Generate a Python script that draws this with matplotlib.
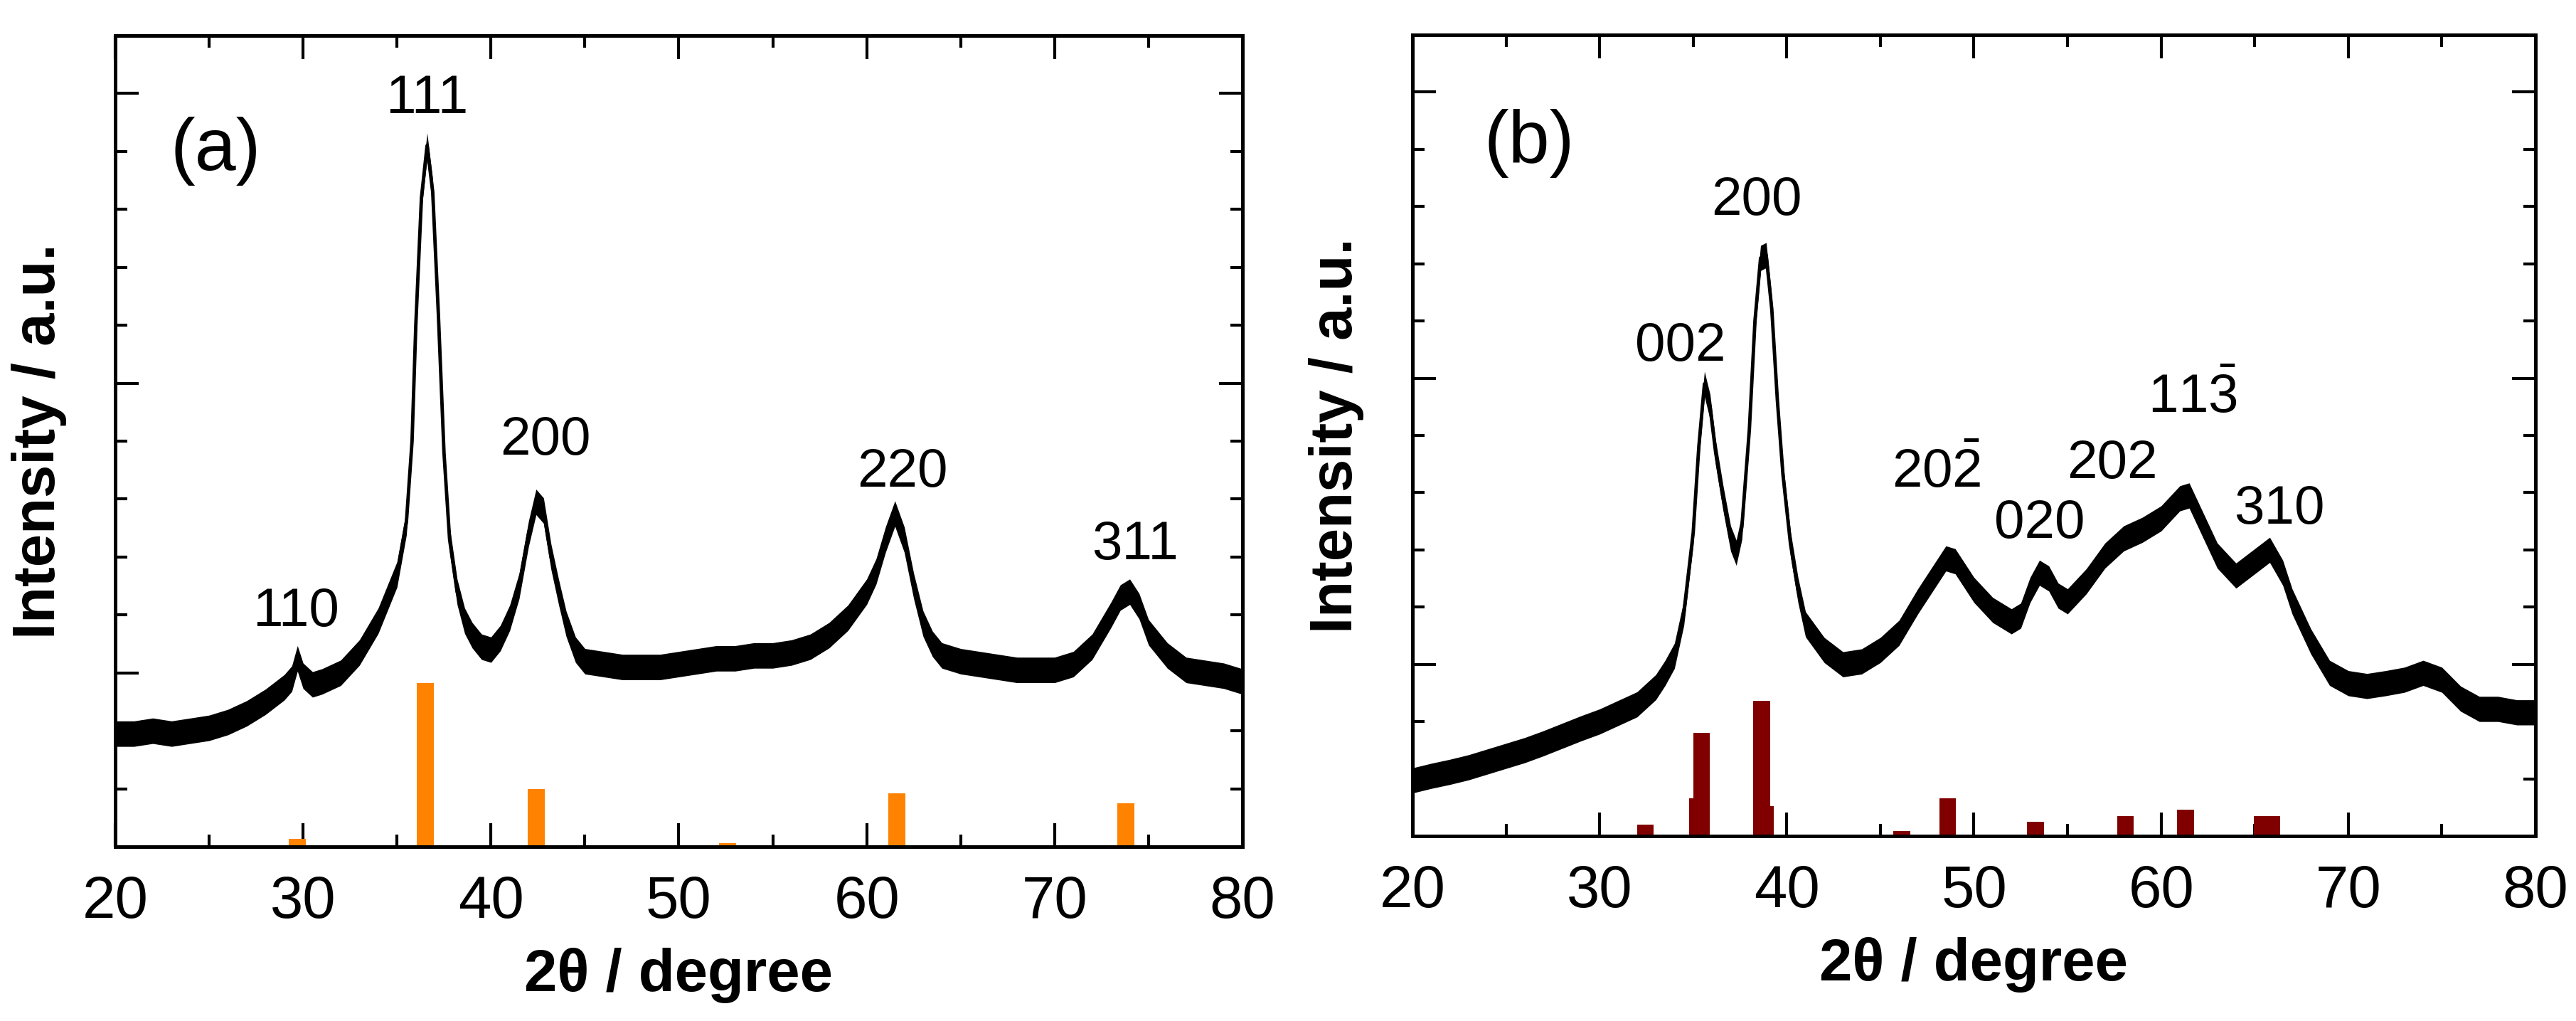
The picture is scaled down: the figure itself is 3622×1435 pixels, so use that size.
import numpy as np
import matplotlib
matplotlib.use('Agg')
import matplotlib.pyplot as plt
from matplotlib.ticker import MultipleLocator

plt.rcParams.update({
    'font.family': ['Liberation Sans', 'DejaVu Sans'],
    'mathtext.fontset': 'custom',
    'mathtext.rm': 'Liberation Sans',
    'mathtext.it': 'Liberation Sans',
})

# --- data (intensity in arbitrary units) --- #

# (a) pattern
two_theta_a = [20, 21, 22, 23, 24, 25, 26, 27, 28, 29, 29.4, 29.7, 30.0, 30.5,
               31, 32, 33, 34, 35, 35.5, 35.8, 36.0, 36.3, 36.6, 36.9, 37.2,
               37.5, 37.8, 38.2, 38.6, 39, 39.5, 40, 40.5, 41, 41.5, 42, 42.4,
               42.8, 43.2, 43.6, 44, 44.5, 45, 46, 47, 48, 49, 50, 51, 52, 53,
               54, 55, 56, 57, 58, 59, 60, 60.5, 61, 61.5, 62, 62.5, 63, 63.5,
               64, 65, 66, 67, 68, 69, 70, 71, 72, 73, 73.5, 74, 74.5, 75, 76,
               77, 78, 79, 80]
intensity_a = [1.95, 1.95, 2.0, 1.95, 2.0, 2.05, 2.15, 2.3, 2.5, 2.75, 2.9, 3.25,
               2.95, 2.8, 2.85, 3.0, 3.35, 3.9, 4.7, 5.6, 7.0, 9.0, 11.2, 12.1,
               11.3, 9.2, 6.8, 5.3, 4.4, 3.9, 3.65, 3.45, 3.4, 3.6, 3.95, 4.5,
               5.4, 5.95, 5.8, 5.0, 4.4, 3.85, 3.4, 3.2, 3.15, 3.1, 3.1, 3.1,
               3.15, 3.2, 3.25, 3.25, 3.3, 3.3, 3.35, 3.45, 3.65, 3.95, 4.4,
               4.75, 5.3, 5.75, 5.3, 4.5, 3.85, 3.5, 3.3, 3.2, 3.15, 3.1, 3.05,
               3.05, 3.05, 3.15, 3.45, 4.0, 4.3, 4.4, 4.15, 3.7, 3.3, 3.05, 3.0,
               2.95, 2.85]
noise_a = 0.22

ref_pos_a = [29.7, 36.5, 42.4, 52.6, 61.6, 73.8]
ref_height_a = [0.13, 2.82, 1.0, 0.06, 0.92, 0.75]

peaks_a = ['110', '111', '200', '220', '311']
peak_x_a = [29.6, 36.6, 42.9, 61.9, 74.3]
peak_y_a = [4.05, 12.9, 7.0, 6.45, 5.2]

# (b) pattern
two_theta_b = [20, 21, 22, 23, 24, 25, 26, 27, 28, 29, 30, 31, 32, 33, 33.5, 34,
               34.5, 35, 35.3, 35.6, 35.9, 36.2, 36.6, 37, 37.3, 37.6, 38, 38.3,
               38.6, 38.9, 39.2, 39.5, 39.8, 40.2, 40.6, 41, 42, 43, 44, 45, 46,
               47, 48, 48.5, 49, 50, 51, 52, 52.5, 53, 53.5, 54, 54.5, 55, 56,
               57, 58, 59, 60, 61, 61.5, 62, 63, 64, 65, 65.8, 66.5, 67, 68, 69,
               70, 71, 72, 73, 74, 75, 76, 77, 78, 79, 80]
intensity_b = [0.97, 1.05, 1.12, 1.2, 1.3, 1.4, 1.5, 1.62, 1.75, 1.88, 2.0, 2.15,
               2.3, 2.6, 2.85, 3.15, 3.9, 5.3, 6.8, 7.9, 7.5, 6.7, 5.9, 5.2,
               4.95, 5.4, 7.1, 9.0, 10.1, 10.15, 9.2, 7.6, 6.3, 5.1, 4.3, 3.7,
               3.25, 3.0, 3.05, 3.25, 3.55, 4.1, 4.6, 4.85, 4.8, 4.3, 3.95, 3.75,
               3.85, 4.3, 4.6, 4.5, 4.2, 4.1, 4.45, 4.9, 5.2, 5.35, 5.55, 5.9,
               5.95, 5.6, 4.9, 4.55, 4.8, 5.0, 4.6, 4.1, 3.4, 2.85, 2.67, 2.62,
               2.67, 2.73, 2.85, 2.73, 2.4, 2.22, 2.22, 2.16, 2.16]
noise_b = 0.22

ref_pos_b = [32.45, 35.25, 35.45, 38.65, 38.85, 46.15, 48.6, 53.3, 58.1, 61.3,
             65.4, 65.9]
ref_height_b = [0.2, 0.66, 1.8, 2.36, 0.52, 0.09, 0.66, 0.25, 0.35, 0.46,
                0.35, 0.35]

peaks_b = ['002', '200', r'$\mathrm{20\bar{2}}$', '020', '202',
           r'$\mathrm{11\bar{3}}$', '310']
peak_x_b = [34.3, 38.4, 48.0, 53.5, 57.4, 61.7, 66.3]
peak_y_b = [8.55, 11.1, 6.35, 5.45, 6.5, 7.65, 5.7]

# --- end data --- #

fig = plt.figure(figsize=(36.23, 14.35), dpi=100, facecolor='white')
ax_a = fig.add_axes([0.04471, 0.17073, 0.43748, 0.79443])
ax_b = fig.add_axes([0.54816, 0.18118, 0.43583, 0.78467])


def draw_panel(ax, x, y, noise, ref_pos, ref_height, bar_color,
               labels, lx, ly, tag, tag_x, tag_y):
    x = np.asarray(x)
    y = np.asarray(y)
    ax.fill_between(x, y - noise, y + noise, color='black', lw=0, zorder=3)
    ax.plot(x, y, color='black', lw=3.5, zorder=3)
    ax.bar(ref_pos, ref_height, width=0.9, color=bar_color, zorder=2)
    for t, px, py in zip(labels, lx, ly):
        ax.text(px, py, t, fontsize=55, ha='center', va='center')
    ax.text(tag_x, tag_y, tag, fontsize=75, ha='center', va='center')

    ax.set_xlim(20, 80)
    ax.set_ylim(0, 14)
    ax.xaxis.set_major_locator(MultipleLocator(10))
    ax.xaxis.set_minor_locator(MultipleLocator(5))
    ax.set_yticks([3, 8, 13])
    ax.set_yticks(np.arange(1, 14), minor=True)
    ax.set_yticklabels([])
    ax.tick_params(which='both', direction='in', top=True, right=True,
                   width=3, labelsize=60, pad=28)
    ax.tick_params(which='major', length=24)
    ax.tick_params(which='minor', length=12)
    for spine in ax.spines.values():
        spine.set_linewidth(3.6)
    ax.set_xlabel(r'2θ / degree', fontsize=60, fontweight='bold', labelpad=18)
    ax.set_ylabel('Intensity / a.u.', fontsize=60, fontweight='bold',
                  labelpad=21)


draw_panel(ax_a, two_theta_a, intensity_a, noise_a, ref_pos_a, ref_height_a,
           '#FF8200', peaks_a, peak_x_a, peak_y_a, '(a)', 25.35, 12.0)
draw_panel(ax_b, two_theta_b, intensity_b, noise_b, ref_pos_b, ref_height_b,
           '#800000', peaks_b, peak_x_b, peak_y_b, '(b)', 26.25, 12.1)

plt.savefig('out.png', dpi=100)
